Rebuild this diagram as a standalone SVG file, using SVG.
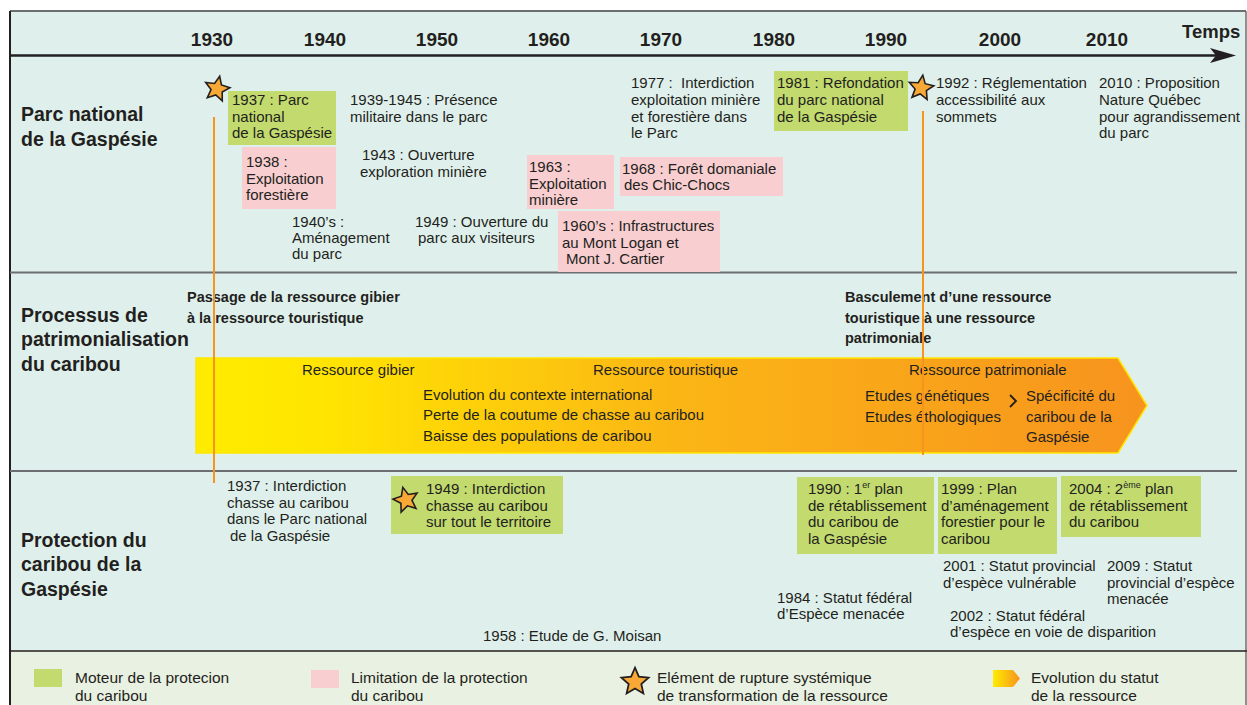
<svg xmlns="http://www.w3.org/2000/svg" xmlns:xlink="http://www.w3.org/1999/xlink" width="1247" height="705" viewBox="0 0 1247 705">
<style>
.t{font-family:"Liberation Sans",Arial,sans-serif;font-size:15px;fill:#231f20}
.h{font-weight:bold;font-size:19.5px}
.yr{font-weight:bold;font-size:19px;text-anchor:middle}
.b{font-weight:bold;font-size:14.5px}
.lg{font-size:15.5px}
.green{fill:#C2DA6E}
.pink{fill:#F8CED1}
.star{fill:#F8A834;stroke:#231f20;stroke-width:1.6;stroke-linejoin:miter}
.sep{stroke:#6d6e71;stroke-width:2;fill:none}
.orange{stroke:#F7941D;stroke-width:2;fill:none}
</style>
<defs>
<path id="star" d="M0,-13 L3.53,-4.85 L12.36,-4.02 L5.71,1.85 L7.64,10.52 L0,6 L-7.64,10.52 L-5.71,1.85 L-12.36,-4.02 L-3.53,-4.85 Z"/>
<linearGradient id="band" gradientUnits="userSpaceOnUse" x1="196" y1="0" x2="1147" y2="0">
<stop offset="0" stop-color="#FFEC00"/>
<stop offset="0.12" stop-color="#FFE600"/>
<stop offset="0.5" stop-color="#FBB615"/>
<stop offset="1" stop-color="#F7931E"/>
</linearGradient>
<linearGradient id="bandL" gradientUnits="objectBoundingBox" x1="0" y1="0" x2="1" y2="0">
<stop offset="0" stop-color="#FFEC00"/>
<stop offset="1" stop-color="#F7931E"/>
</linearGradient>
</defs>

<!-- frame -->
<g id="frame">
<rect x="10" y="11" width="1236" height="694" fill="#DFF0EC"/>
<rect x="10" y="651" width="1236" height="54" fill="#E9F1E2"/>
<line x1="10" y1="11" x2="1246" y2="11" stroke="#6d6e71" stroke-width="2"/>
<line x1="10" y1="11" x2="10" y2="705" stroke="#231f20" stroke-width="2"/>
<line x1="1246" y1="11" x2="1246" y2="705" stroke="#6d6e71" stroke-width="1.5"/>
<line class="sep" x1="10" y1="272.5" x2="1237" y2="272.5"/>
<line class="sep" x1="10" y1="471" x2="1237" y2="471"/>
<line x1="10" y1="651" x2="1247" y2="651" stroke="#231f20" stroke-width="1.5"/>
</g>

<!-- time axis -->
<g id="axis">
<line x1="10" y1="55.5" x2="1218" y2="55.5" stroke="#231f20" stroke-width="2.5"/>
<polygon points="1210,48 1236,55.5 1210,63 1216,55.5" fill="#231f20"/>
<text class="t yr" x="212" y="46">1930</text>
<text class="t yr" x="325" y="46">1940</text>
<text class="t yr" x="437" y="46">1950</text>
<text class="t yr" x="549" y="46">1960</text>
<text class="t yr" x="661" y="46">1970</text>
<text class="t yr" x="774" y="46">1980</text>
<text class="t yr" x="886" y="46">1990</text>
<text class="t yr" x="1000" y="46">2000</text>
<text class="t yr" x="1107" y="46">2010</text>
<text class="t" x="1182" y="38" style="font-weight:bold;font-size:18.5px">Temps</text>
</g>

<!-- section titles -->
<g id="title-parc"><text class="t h"><tspan x="21" y="121">Parc national</tspan><tspan x="21" y="146">de la Gaspésie</tspan></text></g>
<g id="title-processus"><text class="t h"><tspan x="21" y="322">Processus de</tspan><tspan x="21" y="346">patrimonialisation</tspan><tspan x="21" y="371">du caribou</tspan></text></g>
<g id="title-protection"><text class="t h"><tspan x="21" y="547">Protection du</tspan><tspan x="21" y="571">caribou de la</tspan><tspan x="21" y="596">Gaspésie</tspan></text></g>

<!-- Parc national events -->
<g id="e1937parc">
<rect class="green" x="228" y="91" width="108" height="54"/>
<text class="t"><tspan x="232" y="105">1937 : Parc</tspan><tspan x="232" y="121.5">national</tspan><tspan x="232" y="138">de la Gaspésie</tspan></text>
<use xlink:href="#star" href="#star" class="star" transform="translate(217,89) rotate(12)"/>
</g>
<g id="e1938">
<rect class="pink" x="242" y="147" width="94" height="62"/>
<text class="t"><tspan x="246" y="167">1938 :</tspan><tspan x="246" y="184">Exploitation</tspan><tspan x="246" y="200">forestière</tspan></text>
</g>
<g id="e1939">
<text class="t"><tspan x="350" y="105">1939-1945 : Présence</tspan><tspan x="350" y="122">militaire dans le parc</tspan></text>
</g>
<g id="e1943">
<text class="t"><tspan x="362" y="160">1943 : Ouverture</tspan><tspan x="360" y="177">exploration minière</tspan></text>
</g>
<g id="e1940s">
<text class="t"><tspan x="292" y="227">1940’s :</tspan><tspan x="292" y="243">Aménagement</tspan><tspan x="292" y="259">du parc</tspan></text>
</g>
<g id="e1949parc">
<text class="t"><tspan x="415" y="227">1949 : Ouverture du</tspan><tspan x="418" y="243">parc aux visiteurs</tspan></text>
</g>
<g id="e1963">
<rect class="pink" x="527" y="155" width="87" height="54"/>
<text class="t"><tspan x="529" y="172">1963 :</tspan><tspan x="529" y="189">Exploitation</tspan><tspan x="529" y="205">minière</tspan></text>
</g>
<g id="e1968">
<rect class="pink" x="620" y="157" width="163" height="39"/>
<text class="t"><tspan x="622" y="174">1968 : Forêt domaniale</tspan><tspan x="624" y="190">des Chic-Chocs</tspan></text>
</g>
<g id="e1960s">
<rect class="pink" x="558" y="211" width="162" height="61"/>
<text class="t"><tspan x="562" y="231">1960’s : Infrastructures</tspan><tspan x="562" y="248">au Mont Logan et</tspan><tspan x="566" y="264">Mont J. Cartier</tspan></text>
</g>
<g id="e1977">
<text class="t"><tspan x="631" y="88">1977 :&#160; Interdiction</tspan><tspan x="631" y="105">exploitation minière</tspan><tspan x="631" y="122">et forestière dans</tspan><tspan x="631" y="138">le Parc</tspan></text>
</g>
<g id="e1981">
<rect class="green" x="774" y="71" width="134" height="60"/>
<text class="t"><tspan x="777" y="88">1981 : Refondation</tspan><tspan x="777" y="105">du parc national</tspan><tspan x="777" y="122">de la Gaspésie</tspan></text>
</g>
<g id="e1992">
<use xlink:href="#star" href="#star" class="star" transform="translate(921,88) rotate(8)"/>
<text class="t"><tspan x="936" y="88">1992 : Réglementation</tspan><tspan x="936" y="105">accessibilité aux</tspan><tspan x="936" y="122">sommets</tspan></text>
</g>
<g id="e2010">
<text class="t"><tspan x="1099" y="88">2010 : Proposition</tspan><tspan x="1099" y="105">Nature Québec</tspan><tspan x="1099" y="122">pour agrandissement</tspan><tspan x="1099" y="138">du parc</tspan></text>
</g>

<!-- Processus section -->
<g id="passage">
<text class="t b"><tspan x="187" y="302">Passage de la ressource gibier</tspan><tspan x="187" y="323">à la ressource touristique</tspan></text>
</g>
<g id="basculement">
<text class="t b"><tspan x="845" y="302">Basculement d’une ressource</tspan><tspan x="845" y="323">touristique à une ressource</tspan><tspan x="845" y="343">patrimoniale</tspan></text>
</g>
<g id="band-arrow">
<polygon points="196,358 1118,358 1147,405.5 1118,453 196,453" fill="url(#band)" stroke="#FFE600" stroke-width="1.5"/>
<text class="t" x="302" y="375">Ressource gibier</text>
<text class="t" x="593" y="375">Ressource touristique</text>
<text class="t" x="909" y="375">Ressource patrimoniale</text>
<text class="t"><tspan x="423" y="400">Evolution du contexte international</tspan><tspan x="423" y="420">Perte de la coutume de chasse au caribou</tspan><tspan x="423" y="441">Baisse des populations de caribou</tspan></text>
<text class="t"><tspan x="865" y="401">Etudes génétiques</tspan><tspan x="865" y="422">Etudes éthologiques</tspan></text>
<polyline points="1010,395 1016,401 1010,407" fill="none" stroke="#231f20" stroke-width="1.8"/>
<text class="t"><tspan x="1026" y="401">Spécificité du</tspan><tspan x="1026" y="422">caribou de la</tspan><tspan x="1026" y="442">Gaspésie</tspan></text>
</g>

<!-- Protection section -->
<g id="p1937">
<text class="t"><tspan x="227" y="491">1937 : Interdiction</tspan><tspan x="227" y="508">chasse au caribou</tspan><tspan x="227" y="524">dans le Parc national</tspan><tspan x="230" y="541">de la Gaspésie</tspan></text>
</g>
<g id="p1949">
<rect class="green" x="391" y="476" width="172" height="58"/>
<use xlink:href="#star" href="#star" class="star" transform="translate(406,500) rotate(-14)"/>
<text class="t"><tspan x="426" y="494">1949 : Interdiction</tspan><tspan x="426" y="511">chasse au caribou</tspan><tspan x="426" y="527">sur tout le territoire</tspan></text>
</g>
<g id="p1958">
<text class="t" x="483" y="641">1958 : Etude de G. Moisan</text>
</g>
<g id="p1990">
<rect class="green" x="797" y="477" width="137" height="77"/>
<text class="t"><tspan x="808" y="494">1990 : 1<tspan font-size="9" dy="-6">er</tspan><tspan dy="6"> plan</tspan></tspan><tspan x="808" y="510.5">de rétablissement</tspan><tspan x="808" y="527">du caribou de</tspan><tspan x="808" y="543.5">la Gaspésie</tspan></text>
</g>
<g id="p1999">
<rect class="green" x="938" y="477" width="119" height="77"/>
<text class="t"><tspan x="941" y="494">1999 : Plan</tspan><tspan x="941" y="510.5">d’aménagement</tspan><tspan x="941" y="527">forestier pour le</tspan><tspan x="941" y="543.5">caribou</tspan></text>
</g>
<g id="p2004">
<rect class="green" x="1061" y="476" width="140" height="61"/>
<text class="t"><tspan x="1069" y="494">2004 : 2<tspan font-size="9" dy="-6">ème</tspan><tspan dy="6"> plan</tspan></tspan><tspan x="1069" y="510.5">de rétablissement</tspan><tspan x="1069" y="527">du caribou</tspan></text>
</g>
<g id="p2001">
<text class="t"><tspan x="943" y="571">2001 : Statut provincial</tspan><tspan x="943" y="588">d’espèce vulnérable</tspan></text>
</g>
<g id="p2009">
<text class="t"><tspan x="1107" y="571">2009 : Statut</tspan><tspan x="1107" y="588">provincial d’espèce</tspan><tspan x="1107" y="604">menacée</tspan></text>
</g>
<g id="p1984">
<text class="t"><tspan x="777" y="603">1984 : Statut fédéral</tspan><tspan x="777" y="619">d’Espèce menacée</tspan></text>
</g>
<g id="p2002">
<text class="t"><tspan x="950" y="621">2002 : Statut fédéral</tspan><tspan x="950" y="637">d’espèce en voie de disparition</tspan></text>
</g>

<!-- connectors -->
<g id="connectors">
<line class="orange" x1="214" y1="117" x2="214" y2="483"/>
<line class="orange" x1="923" y1="111" x2="923" y2="455"/>
</g>

<!-- legend -->
<g id="legend-moteur">
<rect class="green" x="34" y="669" width="28" height="18"/>
<text class="t lg"><tspan x="75" y="683">Moteur de la protecion</tspan><tspan x="75" y="701">du caribou</tspan></text>
</g>
<g id="legend-limitation">
<rect class="pink" x="311" y="670" width="28" height="18"/>
<text class="t lg"><tspan x="351" y="683">Limitation de la protection</tspan><tspan x="351" y="701">du caribou</tspan></text>
</g>
<g id="legend-rupture">
<use xlink:href="#star" href="#star" class="star" transform="translate(635,682) scale(1.1)"/>
<text class="t lg"><tspan x="657" y="683">Elément de rupture systémique</tspan><tspan x="657" y="701">de transformation de la ressource</tspan></text>
</g>
<g id="legend-evolution">
<polygon points="993,670 1013,670 1020,678.5 1013,687 993,687" fill="url(#bandL)"/>
<text class="t lg"><tspan x="1031" y="683">Evolution du statut</tspan><tspan x="1031" y="701">de la ressource</tspan></text>
</g>
</svg>
